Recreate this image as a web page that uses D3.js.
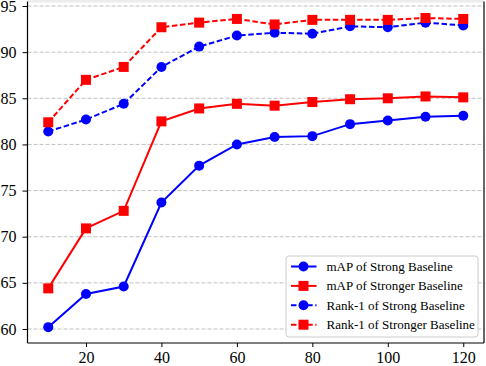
<!DOCTYPE html>
<html>
<head>
<meta charset="utf-8">
<script src="https://cdn.jsdelivr.net/npm/d3@7"></script>
<style>
  body { margin: 0; background: #fff; }
  svg { display: block; }
  svg text { font-family: "Liberation Serif", "Times New Roman", Times, serif; }
</style>
</head>
<body>
<svg id="thesvg" width="486" height="366"></svg>
<script>
'use strict';

// epochs on the x axis
let epochs = [10, 20, 30, 40, 50, 60, 70, 80, 90, 100, 110, 120];

let mapStrong    = [60.2, 63.8, 64.6, 73.7, 77.7, 80.0, 80.8, 80.9, 82.2, 82.6, 83.0, 83.1],
    mapStronger  = [64.4, 70.9, 72.8, 82.5, 83.9, 84.4, 84.2, 84.6, 84.9, 85.0, 85.2, 85.1],
    rankStrong   = [81.4, 82.7, 84.4, 88.4, 90.6, 91.8, 92.1, 92.0, 92.8, 92.7, 93.2, 92.9],
    rankStronger = [82.4, 87.0, 88.4, 92.7, 93.2, 93.6, 93.0, 93.5, 93.5, 93.5, 93.7, 93.6];

let seriesNames = ["mAP of Strong Baseline", "mAP of Stronger Baseline",
                   "Rank-1 of Strong Baseline", "Rank-1 of Stronger Baseline"];

let xTicks = [20, 40, 60, 80, 100, 120],
    yTicks = [60, 65, 70, 75, 80, 85, 90, 95];

var series = [
  {name: seriesNames[0], vals: mapStrong,    color: "#0000ff", marker: "circle", dash: null},
  {name: seriesNames[1], vals: mapStronger,  color: "#ff0000", marker: "square", dash: null},
  {name: seriesNames[2], vals: rankStrong,   color: "#0000ff", marker: "circle", dash: "5.5,2.6"},
  {name: seriesNames[3], vals: rankStronger, color: "#ff0000", marker: "square", dash: "5.5,2.6"}
];

var svg = d3.select("#thesvg"),
    pLeft = 27.5, pRight = 484, pTop = 1.5, pBottom = 343,
    x = d3.scaleLinear().domain([4.5, 125.5]).range([pLeft, pRight]),
    y = d3.scaleLinear().domain([58.48, 95.49]).range([pBottom, pTop]);

// grid
svg.append("g")
    .selectAll("line")
    .data(yTicks)
  .enter().append("line")
    .attr("x1", pLeft).attr("x2", pRight)
    .attr("y1", function(d) { return y(d); })
    .attr("y2", function(d) { return y(d); })
    .attr("stroke", "#b0b0b0")
    .attr("stroke-width", 0.8)
    .attr("stroke-dasharray", "4,2");

// lines + markers
var line = d3.line()
    .x(function(d, i) { return x(epochs[i]); })
    .y(function(d) { return y(d); });

function drawMarker(g, s, cx, cy) {
  if (s.marker === "circle") {
    g.append("circle").attr("cx", cx).attr("cy", cy).attr("r", 5)
      .attr("fill", s.color);
  } else {
    g.append("rect").attr("x", cx - 5).attr("y", cy - 5)
      .attr("width", 10).attr("height", 10)
      .attr("fill", s.color);
  }
}

series.forEach(function(s) {
  let g = svg.append("g");
  g.append("path")
      .datum(s.vals)
      .attr("d", line)
      .attr("fill", "none")
      .attr("stroke", s.color)
      .attr("stroke-width", 2)
      .attr("stroke-dasharray", s.dash);
  s.vals.forEach(function(v, i) { drawMarker(g, s, x(epochs[i]), y(v)); });
});

// axes
var xAxis = svg.append("g")
    .attr("transform", "translate(0," + pBottom + ")")
    .call(d3.axisBottom(x).tickValues(xTicks).tickSize(4).tickPadding(5).tickSizeOuter(0));

var yAxis = svg.append("g")
    .attr("transform", "translate(" + pLeft + ",0)")
    .call(d3.axisLeft(y).tickValues(yTicks).tickSize(5).tickPadding(6).tickSizeOuter(0));

[xAxis, yAxis].forEach(function(a) {
  a.attr("font-family", null).attr("font-size", null);
  a.select(".domain").remove();
  a.selectAll("line").attr("stroke", "#000").attr("stroke-width", 1);
  a.selectAll("text").attr("fill", "#000").style("font-size", "16px");
});

// frame
svg.append("rect")
    .attr("x", pLeft).attr("y", 0)
    .attr("width", pRight - pLeft).attr("height", 2.5)
    .attr("fill", "#ececec");
svg.append("line").attr("x1", pLeft).attr("x2", pLeft).attr("y1", pTop).attr("y2", pBottom)
    .attr("stroke", "#000").attr("stroke-width", 1.2);
svg.append("line").attr("x1", pRight).attr("x2", pRight).attr("y1", pTop).attr("y2", pBottom)
    .attr("stroke", "#000").attr("stroke-width", 1.2);
svg.append("line").attr("x1", pLeft).attr("x2", pRight).attr("y1", pBottom).attr("y2", pBottom)
    .attr("stroke", "#000").attr("stroke-width", 1.2);

// legend
var lg = svg.append("g").attr("transform", "translate(286,256)");
lg.append("rect")
    .attr("width", 192).attr("height", 81)
    .attr("rx", 3)
    .attr("fill", "#fff").attr("fill-opacity", 0.85)
    .attr("stroke", "#cccccc").attr("stroke-width", 1);

series.forEach(function(s, i) {
  let row = lg.append("g").attr("transform", "translate(0," + (10.5 + i * 19.4) + ")");
  row.append("line")
      .attr("x1", 5).attr("x2", 30.5)
      .attr("stroke", s.color).attr("stroke-width", 2)
      .attr("stroke-dasharray", s.dash ? "5.5,2.6" : null);
  drawMarker(row, s, 17.5, 0);
  row.append("text")
      .attr("x", 40.5).attr("y", 0).attr("dy", "0.35em")
      .style("font-size", "13px")
      .attr("fill", "#000")
      .text(s.name);
});
</script>
</body>
</html>
